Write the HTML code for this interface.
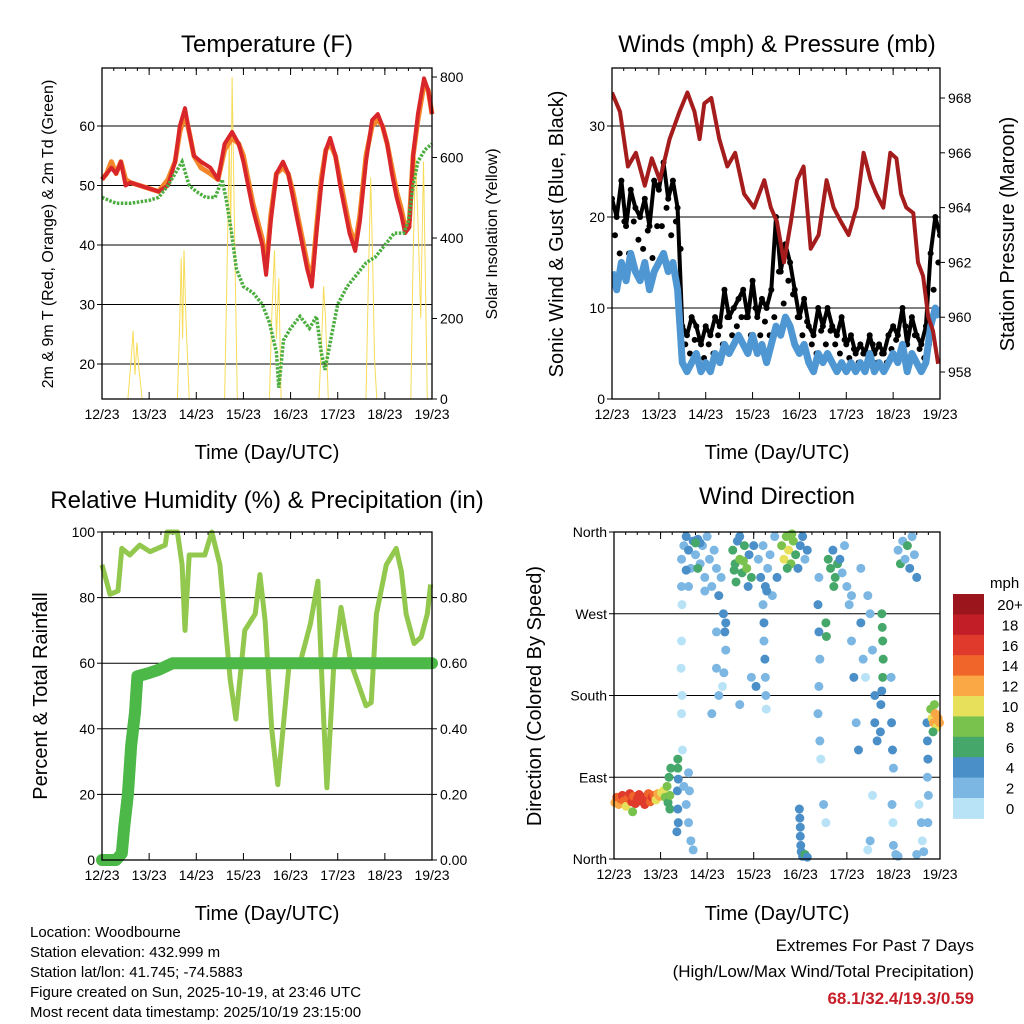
<!DOCTYPE html>
<html><head><meta charset="utf-8">
<style>
html,body{margin:0;padding:0;background:#fff;}
svg{display:block;font-family:"Liberation Sans",sans-serif;}
</style></head>
<body>
<svg id="fig" width="1024" height="1024" viewBox="0 0 1024 1024" xmlns="http://www.w3.org/2000/svg">
<rect x="0" y="0" width="1024" height="1024" fill="#fff"/>
<text x="267" y="52" font-size="24" text-anchor="middle">Temperature (F)</text>
<text x="777" y="52" font-size="24" text-anchor="middle">Winds (mph) &amp; Pressure (mb)</text>
<text x="267" y="508" font-size="24" text-anchor="middle">Relative Humidity (%) &amp; Precipitation (in)</text>
<text x="777" y="504" font-size="24" text-anchor="middle">Wind Direction</text>
<text transform="translate(53,234) rotate(-90)" font-size="16" text-anchor="middle">2m &amp; 9m T (Red, Orange) &amp; 2m Td (Green)</text>
<text transform="translate(497,234) rotate(-90)" font-size="16" text-anchor="middle">Solar Insolation (Yellow)</text>
<text transform="translate(563,234) rotate(-90)" font-size="20" text-anchor="middle">Sonic Wind &amp; Gust (Blue, Black)</text>
<text transform="translate(1014,234) rotate(-90)" font-size="20" text-anchor="middle">Station Pressure (Maroon)</text>
<text transform="translate(47,696) rotate(-90)" font-size="20" text-anchor="middle">Percent &amp; Total Rainfall</text>
<text transform="translate(541,696) rotate(-90)" font-size="20" text-anchor="middle">Direction (Colored By Speed)</text>
<text x="267" y="459" font-size="20" text-anchor="middle">Time (Day/UTC)</text>
<text x="777" y="459" font-size="20" text-anchor="middle">Time (Day/UTC)</text>
<text x="267" y="920" font-size="20" text-anchor="middle">Time (Day/UTC)</text>
<text x="777" y="920" font-size="20" text-anchor="middle">Time (Day/UTC)</text>
<g font-size="15">
<text x="30" y="937">Location: Woodbourne</text>
<text x="30" y="957">Station elevation: 432.999 m</text>
<text x="30" y="977">Station lat/lon: 41.745; -74.5883</text>
<text x="30" y="997">Figure created on Sun, 2025-10-19, at 23:46 UTC</text>
<text x="30" y="1017">Most recent data timestamp: 2025/10/19 23:15:00</text>
</g>
<g font-size="17" text-anchor="end">
<text x="974" y="951">Extremes For Past 7 Days</text>
<text x="974" y="977">(High/Low/Max Wind/Total Precipitation)</text>
<text x="974" y="1004" fill="#c8202a" font-weight="bold">68.1/32.4/19.3/0.59</text>
</g>
<g id="layer"></g>
</svg>
<script>
// ---------- data ----------
const dayLabels = ["12/23","13/23","14/23","15/23","16/23","17/23","18/23","19/23"];
const tempTicks = [20,30,40,50,60];
const solarTicks = [0,200,400,600,800];
const windTicks = [0,10,20,30];
const pressTicks = [958,960,962,964,966,968];
const rhTicks = [0,20,40,60,80,100];
const precipTicks = ["0.00","0.20","0.40","0.60","0.80"];
const dirTicks = ["North","East","South","West","North"];
const speedBins = ["0","2","4","6","8","10","12","14","16","18","20+"];

const redT = [0,0.1,0.2,0.3,0.4,0.5,0.6,0.8,1.0,1.2,1.4,1.55,1.65,1.76,1.85,1.95,2.1,2.3,2.46,2.6,2.76,2.9,3.0,3.1,3.2,3.3,3.4,3.48,3.58,3.7,3.84,3.95,4.05,4.15,4.25,4.35,4.45,4.55,4.65,4.75,4.84,4.95,5.05,5.15,5.25,5.37,5.47,5.6,5.73,5.85,5.95,6.05,6.15,6.25,6.35,6.43,6.52,6.6,6.7,6.83,6.92,7.0];
const redV = [51,52,53,52,54,50,50.5,50,49.5,49,50,54,60,63,59,55,54,53,51,57,59,57,54,50,46,43,40,35,44,52,54,52,48,44,40,36,33,42,50,56,58,55,50,46,42,39,44,54,61,62,60,57,52,48,45,42,43,55,62,68,66,62];
const orangeV = [51,52,54,52,54,51,50.5,50,49.5,49,51,54,59,62,59,55,53,52,51,56,58,57,55,51,47,44,41,36,45,52,53,52,49,45,41,37,34,43,51,56,57,55,51,47,43,40,45,55,60,61,60,57,53,49,46,43,44,55,61,67,66,62];
const dewT = [0,0.3,0.6,1.0,1.2,1.4,1.55,1.7,1.85,2.0,2.2,2.4,2.55,2.65,2.75,2.85,3.0,3.2,3.4,3.55,3.7,3.75,3.85,4.0,4.2,4.4,4.55,4.65,4.73,4.85,5.0,5.2,5.4,5.6,5.8,6.0,6.2,6.4,6.5,6.6,6.7,6.85,7.0];
const dewV = [48,47,47,47.5,48,50,52,54,50,49,48,48,51,47,42,36,33,32,30,27,22,16,24,26,28,26,28,22,19,24,30,33,35,37,38,40,42,42,44,50,54,56,57];
const solarT = [0,0.55,0.62,0.66,0.7,0.74,0.78,0.85,1.6,1.65,1.68,1.71,1.74,1.78,1.85,2.6,2.65,2.7,2.73,2.76,2.8,2.87,3.55,3.6,3.66,3.7,3.75,3.8,4.6,4.66,4.7,4.74,4.8,5.6,5.65,5.7,5.74,5.78,5.83,6.55,6.6,6.65,6.7,6.76,6.82,6.9,7.0];
const solarV = [0,0,100,170,60,140,80,0,0,200,350,150,370,200,0,0,300,650,400,800,500,0,0,200,370,150,300,0,0,150,280,200,0,0,300,550,350,100,0,0,350,600,450,200,590,0,0];

const windT = [0,0.1,0.2,0.3,0.4,0.5,0.6,0.7,0.8,0.9,1.0,1.1,1.2,1.3,1.4,1.5,1.6,1.7,1.8,1.9,2.0,2.1,2.2,2.3,2.4,2.5,2.6,2.7,2.8,2.9,3.0,3.1,3.2,3.3,3.4,3.5,3.6,3.7,3.8,3.9,4.0,4.1,4.2,4.3,4.4,4.5,4.6,4.7,4.8,4.9,5.0,5.1,5.2,5.3,5.4,5.5,5.6,5.7,5.8,5.9,6.0,6.1,6.2,6.3,6.4,6.5,6.6,6.7,6.8,6.9,7.0];
const windV = [14,12,15,13,16,14,13,15,12,14,15,16,14,15,12,4,3,4,5,3,4,3,5,4,6,5,6,7,6,5,7,5,6,4,6,8,7,9,8,6,5,6,4,3,5,4,5,4,3,4,3,4,3,4,3,5,3,4,3,4,5,4,6,3,5,4,3,4,8,10,9];
const gustV = [22,20,24,19,23,21,20,22,19,24,23,26,22,24,21,8,7,9,8,6,8,7,9,8,12,9,10,11,12,9,13,9,11,10,12,20,14,17,15,12,9,11,8,7,10,8,10,8,7,9,6,7,5,6,5,7,5,6,5,7,8,7,10,6,9,7,6,8,16,20,18];
const pressT = [0,0.17,0.34,0.51,0.70,0.85,1.02,1.23,1.44,1.61,1.76,1.87,1.97,2.12,2.29,2.46,2.63,2.82,3.03,3.25,3.39,3.52,3.67,3.82,3.95,4.09,4.24,4.41,4.58,4.73,4.88,5.05,5.22,5.37,5.52,5.64,5.79,5.94,6.07,6.17,6.28,6.43,6.53,6.64,6.75,6.85,6.96];
const pressV = [968.2,967.5,965.5,966,964.8,965.8,965,966.5,967.5,968.2,967.5,966.5,967.8,968,966.5,965.5,966,964.5,964,965,964,963.5,962,963.5,965,965.5,962.5,963,965,964,963.5,963,964,966,965,964.5,964,966,965.8,964.5,964,963.8,962,961.5,960,959.5,958.3];

const rhT = [0,0.17,0.34,0.42,0.59,0.8,1.02,1.34,1.38,1.6,1.7,1.76,1.85,2.18,2.33,2.5,2.72,2.84,3.03,3.25,3.35,3.46,3.6,3.73,3.97,4.2,4.42,4.58,4.68,4.77,4.92,5.07,5.28,5.6,5.71,5.82,6.03,6.24,6.35,6.45,6.62,6.77,6.9,6.97];
const rhV = [90,81,82,95,93,96,94,96,100,100,90,70,93,93,100,90,55,43,70,75,87,73,40,23,60,60,72,85,50,22,60,77,60,47,48,75,90,95,88,75,66,68,75,84];
const precipT = [0,0.3,0.42,0.47,0.55,0.62,0.7,0.75,1.0,1.2,1.5,7];
const precipV = [0,0,0.02,0.1,0.2,0.35,0.45,0.56,0.57,0.58,0.6,0.6];

const dirT = [0.02,0.06,0.1,0.14,0.18,0.22,0.26,0.3,0.34,0.38,0.42,0.46,0.5,0.54,0.58,0.62,0.66,0.7,0.74,0.78,0.82,0.86,0.9,0.94,0.98,1.02,1.06,1.1,1.14,1.16,1.18,1.2,1.22,1.2,0.4,
1.37,1.37,1.38,1.36,1.37,1.38,1.35,1.45,1.46,1.45,1.44,1.46,1.45,1.47,1.5,1.55,1.6,1.62,1.6,1.65,1.7,
1.45,1.5,1.55,1.6,1.65,1.7,1.75,1.8,1.85,1.9,1.95,2.0,2.05,2.1,2.15,2.2,2.25,2.3,1.6,1.55,1.85,1.95,1.75,1.8,
2.35,2.38,2.4,2.36,2.33,2.4,2.2,2.2,2.25,2.1,
2.55,2.6,2.65,2.7,2.75,2.8,2.85,2.9,2.95,3.0,2.62,2.78,2.88,2.7,2.58,
3.1,3.15,3.2,3.25,3.3,3.35,3.4,3.45,3.5,3.2,3.28,
3.22,3.22,3.24,3.25,3.26,3.27,3.05,2.95,2.7,
3.6,3.65,3.7,3.75,3.8,3.85,3.9,3.95,4.0,4.05,4.1,4.15,3.72,3.82,
3.98,3.99,4.0,4.0,4.01,4.02,4.05,4.1,4.15,
4.6,4.65,4.7,4.75,4.8,4.72,4.85,4.9,4.95,
4.4,4.38,4.4,4.42,4.4,4.38,4.42,4.44,4.5,4.55,4.55,4.56,
5.0,5.05,5.1,5.15,5.2,5.25,5.3,5.35,5.4,5.45,5.5,5.55,5.6,5.6,5.65,5.55,5.5,5.45,5.3,5.1,
5.75,5.76,5.77,5.78,5.77,5.75,5.73,5.72,
5.95,5.96,5.98,6.0,5.97,5.99,6.0,6.05,6.1,
6.1,6.15,6.2,6.25,6.3,6.35,6.4,6.45,6.5,
6.55,6.6,6.62,6.5,6.65,
6.72,6.73,6.74,6.73,6.75,6.74,
6.8,6.83,6.86,6.9,6.93,6.96,6.99,6.85,6.88];
const dirV = [62,68,60,66,70,64,58,67,72,63,69,61,66,71,64,68,60,66,72,63,68,70,65,72,69,73,75,68,80,62,90,55,100,70,52,
110,100,88,75,55,40,30,300,280,240,210,180,160,120,80,60,95,75,40,20,10,
330,345,355,340,320,350,335,352,325,345,310,355,330,300,340,320,290,310,300,318,348,295,348,320,
270,250,230,205,190,260,250,210,180,160,
340,325,350,330,315,345,320,335,310,345,305,328,300,355,318,
330,310,345,300,320,335,290,355,310,280,295,
260,240,220,200,180,165,190,200,170,
345,330,355,340,325,350,335,320,345,355,330,340,320,358,
55,45,35,25,15,8,3,5,2,
330,320,340,310,325,300,330,315,345,
310,280,250,220,190,160,130,110,60,40,260,245,
300,280,240,200,150,120,260,220,200,290,270,230,180,150,130,70,20,10,320,290,
270,255,240,220,200,185,170,140,
200,150,120,100,60,40,15,5,3,
340,325,350,330,345,320,355,335,310,
60,40,20,5,8,
150,130,110,90,70,40,
165,155,150,160,145,155,150,140,170];
const dirS = [13,14,12,15,16,14,10,15,17,16,15,16,17,16,17,16,17,17,15,14,16,14,11,13,12,10,11,9,8,7,7,7,6,8,8,
6,6,5,5,4,4,4,2,1,1,1,0,1,1,2,2,3,3,2,2,3,
2,3,4,4,2,4,3,4,2,3,2,2,3,2,2,2,4,2,2,4,4,2,6,6,
4,4,2,2,1,4,2,2,2,2,
6,7,4,8,7,6,8,4,6,4,6,8,4,4,7,
2,4,2,4,2,2,2,2,4,2,4,
4,2,4,2,2,1,4,2,3,
8,10,9,10,8,9,6,4,4,4,2,4,6,8,
4,4,4,4,4,4,4,6,4,
6,6,4,6,6,6,4,2,2,
2,4,4,2,2,2,2,1,2,1,6,6,
2,2,2,4,2,4,4,2,1,2,2,2,4,4,4,1,2,1,2,2,
6,6,6,6,6,4,4,4,
2,4,4,2,2,1,2,2,2,
2,6,2,2,6,4,2,2,4,
1,2,1,2,2,
4,4,4,2,2,2,
8,10,12,12,10,13,12,7,9];
const speedColors = ["#b8e3f7","#7cb7e3","#4a8fc7","#45a86a","#7ac24e","#e6e05a","#f9a845","#f0652a","#e03a2c","#c21e27","#9b161c"];

// ---------- helpers ----------
const NS = "http://www.w3.org/2000/svg";
const layer = document.getElementById("layer");
function mk(tag, attrs, parent){
  const e = document.createElementNS(NS, tag);
  for (const k in attrs) e.setAttribute(k, attrs[k]);
  (parent||layer).appendChild(e);
  return e;
}
function scale(d0,d1,r0,r1){ return v => r0 + (v-d0)/(d1-d0)*(r1-r0); }
function pathFrom(xs, ys, xf, yf){
  let d = "";
  for (let i=0;i<xs.length;i++) d += (i?"L":"M") + xf(xs[i]).toFixed(1) + "," + yf(ys[i]).toFixed(1);
  return d;
}

function frame(name, x0, x1, y0, y1, leftTicks, leftScale, rightTicks, rightScale, leftLabels, rightLabels){
  const g = mk("g", {});
  
  
  const xs = scale(0,7,x0,x1);
  leftTicks.forEach((v,i)=>{
    const y = leftScale(v);
    const gl = mk("line",{x1:x0,x2:x1,y1:y,y2:y,stroke:"#000","stroke-width":1},g);
    
    
    const tl = mk("text",{x:x0-7,y:y+5,"font-size":14,"text-anchor":"end"},g);
    tl.textContent = leftLabels ? leftLabels[i] : v;
    
    
    mk("line",{x1:x0-5,x2:x0,y1:y,y2:y,stroke:"#000"},g);
  });
  if (rightTicks){
    rightTicks.forEach((v,i)=>{
      const y = rightScale(typeof v==="string"?parseFloat(v):v);
      const tl = mk("text",{x:x1+8,y:y+5,"font-size":14},g);
      tl.textContent = rightLabels ? rightLabels[i] : v;
      
      
      mk("line",{x1:x1,x2:x1+5,y1:y,y2:y,stroke:"#000"},g);
    });
  }
  dayLabels.forEach((lab,i)=>{
    const x = xs(i);
    mk("line",{x1:x,x2:x,y1:y1,y2:y1-7,stroke:"#000"},g);
    mk("line",{x1:x,x2:x,y1:y0,y2:y0+7,stroke:"#000"},g);
    const tl = mk("text",{x:x,y:y1+20,"font-size":14,"text-anchor":"middle"},g);
    tl.textContent = lab;
    
    
  });
  for (let h=0; h<7*4; h++){
    const x = xs(h/4);
    mk("line",{x1:x,x2:x,y1:y0,y2:y0+3,stroke:"#000"},g);
  }
  return {xs, g};
}
function border(x0,x1,y0,y1){
  const b = mk("rect",{x:x0,y:y0,width:x1-x0,height:y1-y0,fill:"none",stroke:"#000","stroke-width":1.3});
  
  
}

// ---------- Panel 1: temperature ----------
(function(){
  const x0=102,x1=432,y0=68,y1=399;
  const yT = scale(20,60,364,126);
  const yS = scale(0,800,399,77);
  const {xs} = frame("temperature",x0,x1,y0,y1,tempTicks,yT,solarTicks,yS);
  const s = mk("path",{d:pathFrom(solarT,solarV,xs,yS),fill:"none",stroke:"#f7dc5a","stroke-width":1});
  
  
  const o = mk("path",{d:pathFrom(redT,orangeV,xs,yT),fill:"none",stroke:"#f4862a","stroke-width":5,"stroke-linejoin":"round"});
  
  
  const r = mk("path",{d:pathFrom(redT,redV,xs,yT),fill:"none",stroke:"#d8262a","stroke-width":4,"stroke-linejoin":"round"});
  
  
  const gr = mk("path",{d:pathFrom(dewT,dewV,xs,yT),fill:"none",stroke:"#4aad3e","stroke-width":3.5,"stroke-dasharray":"2.5 1.5"});
  
  
  border(x0,x1,y0,y1);
})();

// ---------- Panel 2: winds ----------
(function(){
  const x0=612,x1=940,y0=68,y1=399;
  const yW = scale(0,30,399,126);
  const yP = scale(958,968,372,98);
  const {xs} = frame("winds",x0,x1,y0,y1,windTicks,yW,pressTicks,yP);
  const clip = mk("clipPath",{id:"c2"});
  mk("rect",{x:x0,y:y0,width:x1-x0,height:y1-y0},clip);
  const g = mk("g",{"clip-path":"url(#c2)"});
  const gl = mk("path",{d:pathFrom(windT,gustV,xs,yW),fill:"none",stroke:"#000","stroke-width":4,"stroke-linejoin":"round"},g);
  
  
  windT.forEach((t,i)=>{
    const c = mk("circle",{cx:xs(t),cy:yW(gustV[i]),r:3,fill:"#000"},g);
    
    
    const m = mk("circle",{cx:xs(t)+3,cy:yW((gustV[i]+windV[i])/2),r:3,fill:"#000"},g);
    
    
  });
  const bl = mk("path",{d:pathFrom(windT,windV,xs,yW),fill:"none",stroke:"#4f97d3","stroke-width":7,"stroke-linejoin":"round"},g);
  
  
  const pl = mk("path",{d:pathFrom(pressT,pressV,xs,yP),fill:"none",stroke:"#a51c1c","stroke-width":4,"stroke-linejoin":"round"},g);
  
  
  border(x0,x1,y0,y1);
})();

// ---------- Panel 3: RH ----------
(function(){
  const x0=102,x1=432,y0=532,y1=860;
  const yR = scale(0,100,860,532);
  const yPr = scale(0,1,860,532);
  const {xs} = frame("humidity",x0,x1,y0,y1,rhTicks,yR,precipTicks,yPr);
  const rl = mk("path",{d:pathFrom(rhT,rhV,xs,yR),fill:"none",stroke:"#92c84e","stroke-width":5,"stroke-linejoin":"round"});
  
  
  const pl = mk("path",{d:pathFrom(precipT,precipV,xs,yPr),fill:"none",stroke:"#4cb848","stroke-width":12,"stroke-linejoin":"round","stroke-linecap":"round"});
  
  
  border(x0,x1,y0,y1);
})();

// ---------- Panel 4: wind direction ----------
(function(){
  const x0=614,x1=940,y0=532,y1=859;
  const yD = scale(0,360,859,532);
  const {xs} = frame("direction",x0,x1,y0,y1,[0,90,180,270,360],yD,null,null,dirTicks);
  dirT.forEach((t,i)=>{
    const bin = Math.min(10, Math.floor(dirS[i]/2));
    const c = mk("circle",{cx:xs(t),cy:yD(dirV[i]),r:4.5,fill:speedColors[bin]});
    
    
  });
  border(x0,x1,y0,y1);
  const lg = mk("g",{});
  
  
  const t = mk("text",{x:990,y:588,"font-size":15},lg);
  t.textContent = "mph";
  const bh = 20.4, top = 594;
  speedBins.forEach((lab,i)=>{
    const k = speedBins.length-1-i;
    const y = top + i*bh;
    const r = mk("rect",{x:953,y:y,width:31,height:bh+0.5,fill:speedColors[k]},lg);
    
    
    const tl = mk("text",{x:1010,y:y+16,"font-size":15,"text-anchor":"middle"},lg);
    tl.textContent = speedBins[k];
    
    
  });
})();
</script>
</body></html>
